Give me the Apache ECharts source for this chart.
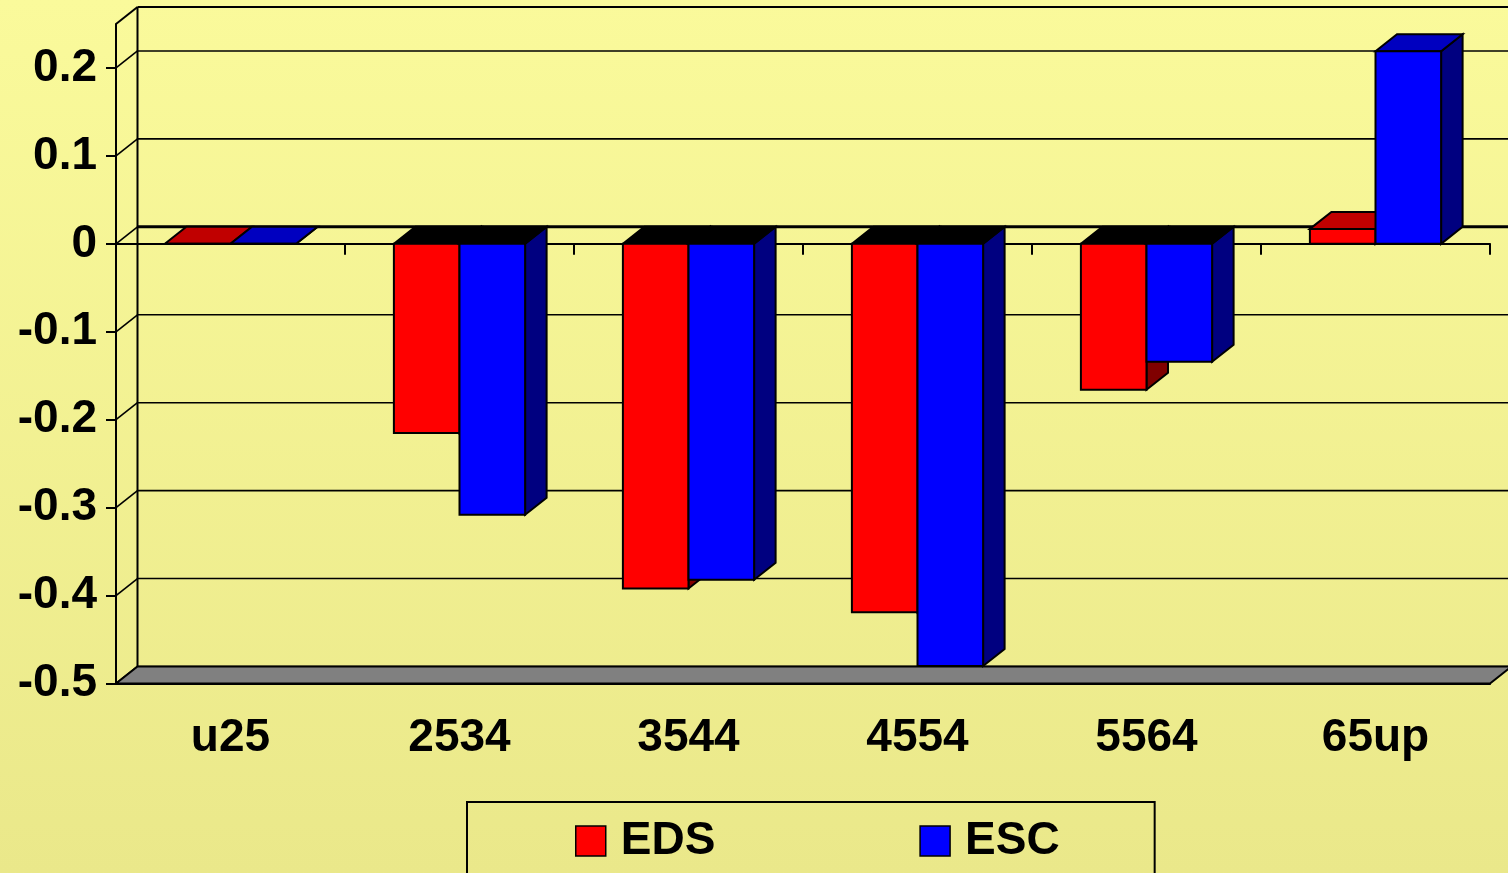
<!DOCTYPE html>
<html>
<head>
<meta charset="utf-8">
<style>
  html, body { margin: 0; padding: 0; }
  #chart { width: 1508px; height: 873px; }
</style>
<script src="https://cdn.jsdelivr.net/npm/echarts@6/dist/echarts.min.js"></script>
</head>
<body>
<div id="chart"></div>
<script>
// Age groups and the two series
const categories = ['u25', '2534', '3544', '4554', '5564', '65up'];
const edsValues = [0, -0.215, -0.392, -0.419, -0.166, 0.017];
const escValues = [0, -0.308, -0.382, -0.480, -0.134, 0.219];
const yTickValues = [-0.5, -0.4, -0.3, -0.2, -0.1, 0, 0.1, 0.2];
const yMin = -0.5;
const yMax = 0.25;

// Pseudo-3D depth of the box and bars (pixels)
const DEPTH_X = 21.5;
const DEPTH_Y = 17;
const BAR_RATIO = 0.2865;
const TICK_LEN = 11;
const FONT = '"Liberation Sans", Arial, sans-serif';
const EDGE = { stroke: '#000', lineWidth: 2, lineJoin: 'miter' };

const palette = {
  EDS: { front: '#ff0000', top: '#c00000', side: '#800000' },
  ESC: { front: '#0000ff', top: '#0000c0', side: '#000080' }
};

function quad(a, b, c, d, fill) {
  return {
    type: 'polygon',
    shape: { points: [a, b, c, d] },
    style: Object.assign({ fill: fill }, EDGE)
  };
}

function seg(x1, y1, x2, y2, width) {
  return { type: 'line', shape: { x1: x1, y1: y1, x2: x2, y2: y2 }, style: { stroke: '#000', lineWidth: width } };
}

// One bar: front face, cap and right-hand side face
function makeBarRenderer(colors, leftOfCentre) {
  return function (params, api) {
    const idx = api.value(0);
    const v = api.value(1);
    const pv = api.coord([idx, v]);
    const p0 = api.coord([idx, 0]);
    const w = api.size([1, 0])[0] * BAR_RATIO;
    const x0 = leftOfCentre ? pv[0] - w : pv[0];
    const x1 = x0 + w;
    const yTop = Math.min(pv[1], p0[1]);
    const yBot = Math.max(pv[1], p0[1]);
    const capFill = v >= 0 ? colors.top : '#000000';
    return {
      type: 'group',
      children: [
        quad([x1, yTop], [x1 + DEPTH_X, yTop - DEPTH_Y], [x1 + DEPTH_X, yBot - DEPTH_Y], [x1, yBot], colors.side),
        quad([x0, yTop], [x0 + DEPTH_X, yTop - DEPTH_Y], [x1 + DEPTH_X, yTop - DEPTH_Y], [x1, yTop], capFill),
        quad([x0, yTop], [x1, yTop], [x1, yBot], [x0, yBot], colors.front)
      ]
    };
  };
}

// Back-wall gridline for one tick value, with its diagonal on the side wall
function renderGridLine(params, api) {
  const cs = params.coordSys;
  const v = api.value(1);
  const y = api.coord([0, v])[1];
  const left = cs.x;
  const right = cs.x + cs.width;
  return {
    type: 'group',
    children: [
      seg(left, y, left + DEPTH_X, y - DEPTH_Y, 1.6),
      seg(left + DEPTH_X, y - DEPTH_Y, right + DEPTH_X, y - DEPTH_Y, v === 0 ? 3 : 1.6)
    ]
  };
}

// Back-wall outline, grey floor and the category ticks on the zero line
function renderBox(params, api) {
  const cs = params.coordSys;
  const left = cs.x;
  const right = cs.x + cs.width;
  const top = api.coord([0, yMax])[1];
  const bottom = api.coord([0, yMin])[1];
  const zero = api.coord([0, 0])[1];
  const band = api.size([1, 0])[0];
  const children = [
    seg(left, top, left + DEPTH_X, top - DEPTH_Y, 2),
    seg(left + DEPTH_X, top - DEPTH_Y, right + DEPTH_X, top - DEPTH_Y, 2),
    seg(left + DEPTH_X, top - DEPTH_Y, left + DEPTH_X, bottom - DEPTH_Y, 2),
    quad([left, bottom], [left + DEPTH_X, bottom - DEPTH_Y], [right + DEPTH_X, bottom - DEPTH_Y], [right, bottom], '#808080')
  ];
  for (let i = 1; i <= categories.length; i++) {
    const x = left + i * band;
    children.push(seg(x, zero, x, zero + TICK_LEN, 2));
  }
  return { type: 'group', children: children };
}

const chart = echarts.init(document.getElementById('chart'), null, { renderer: 'canvas' });

const labelFont = { color: '#000', fontFamily: FONT, fontWeight: 'bold', fontSize: 46 };

chart.setOption({
  animation: false,
  backgroundColor: {
    type: 'linear', x: 0, y: 0, x2: 0, y2: 1,
    colorStops: [
      { offset: 0, color: '#fafa9b' },
      { offset: 1, color: '#eae88a' }
    ]
  },
  grid: { left: 116, right: 18, top: 24, bottom: 189.5 },
  legend: {
    data: ['EDS', 'ESC'],
    left: 467,
    top: 802,
    orient: 'horizontal',
    icon: 'rect',
    itemWidth: 30,
    itemHeight: 30,
    itemGap: 204,
    padding: [16, 95, 40, 108],
    borderColor: '#000',
    borderWidth: 2,
    backgroundColor: 'transparent',
    itemStyle: { borderColor: '#000', borderWidth: 1.5 },
    textStyle: Object.assign({ lineHeight: 30, padding: [0, 0, 0, 10] }, labelFont),
    selectedMode: false
  },
  xAxis: [
    {
      type: 'category',
      data: categories,
      position: 'bottom',
      axisLine: { onZero: false, lineStyle: { color: '#000', width: 2 } },
      axisTick: { length: TICK_LEN, lineStyle: { color: '#000', width: 2 } },
      axisLabel: Object.assign({ margin: 32 }, labelFont),
      splitLine: { show: false }
    },
    {
      type: 'category',
      data: categories,
      position: 'top',
      axisLine: { onZero: true, lineStyle: { color: '#000', width: 2 } },
      axisTick: { show: false },
      axisLabel: { show: false },
      splitLine: { show: false }
    }
  ],
  yAxis: {
    type: 'value',
    min: yMin,
    max: yMax,
    axisLine: { show: true, onZero: false, lineStyle: { color: '#000', width: 2 } },
    axisTick: { show: true, length: 10, customValues: yTickValues, lineStyle: { color: '#000', width: 2 } },
    axisLabel: Object.assign({ margin: 19, customValues: yTickValues }, labelFont),
    splitLine: { show: false }
  },
  series: [
    {
      name: 'gridlines',
      type: 'custom',
      silent: true,
      z: 1,
      renderItem: renderGridLine,
      encode: { x: 0, y: 1 },
      data: yTickValues.map(v => [0, v])
    },
    {
      name: 'box',
      type: 'custom',
      silent: true,
      z: 1,
      renderItem: renderBox,
      encode: { x: 0, y: 1 },
      data: [[0, yMin]]
    },
    {
      name: 'EDS',
      type: 'custom',
      z: 3,
      itemStyle: { color: palette.EDS.front },
      renderItem: makeBarRenderer(palette.EDS, true),
      encode: { x: 0, y: 1 },
      data: edsValues.map((v, i) => [i, v])
    },
    {
      name: 'ESC',
      type: 'custom',
      z: 3,
      itemStyle: { color: palette.ESC.front },
      renderItem: makeBarRenderer(palette.ESC, false),
      encode: { x: 0, y: 1 },
      data: escValues.map((v, i) => [i, v])
    }
  ]
});
</script>
</body>
</html>
